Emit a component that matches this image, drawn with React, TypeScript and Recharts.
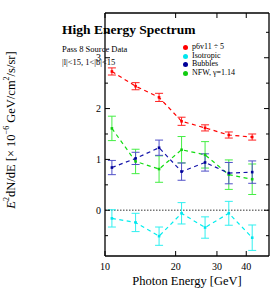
import React from 'react';
import { ComposedChart, Line, XAxis, YAxis, ErrorBar, ReferenceLine, Legend, Label } from 'recharts';

// photon energy bin centres [GeV]
const energies = [10.7, 13.5, 17.0, 21.2, 26.7, 33.7, 42.4];

// E^2 dN/dE [1e-6 GeV/cm2/s/sr]
const p6v11 = [2.73, 2.44, 2.22, 1.75, 1.62, 1.48, 1.44];
const p6v11Err = [0.07, 0.07, 0.08, 0.08, 0.06, 0.06, 0.06];
const isotropic = [-0.16, -0.24, -0.51, -0.06, -0.34, -0.06, -0.54];
const isotropicErr = [0.17, 0.18, 0.18, 0.21, 0.21, 0.235, 0.25];
const bubbles = [0.84, 1.02, 1.23, 0.76, 0.94, 0.73, 0.75];
const bubblesErr = [0.14, 0.12, 0.15, 0.17, 0.17, 0.21, 0.22];
const nfw = [1.61, 0.96, 0.81, 1.19, 1.09, 0.7, 0.61];
const nfwErr = [0.24, 0.24, 0.26, 0.26, 0.26, 0.29, 0.3];

const xTicks = [10, 20, 30, 40];
const yTicks = [-0.5, 0, 0.5, 1, 1.5, 2, 2.5, 3, 3.5];
const yLabelTicks = [0, 1, 2, 3];

const data = energies.map((e, i) => ({
  energy: e,
  p6v11: p6v11[i],
  p6v11Err: p6v11Err[i],
  isotropic: isotropic[i],
  isotropicErr: isotropicErr[i],
  bubbles: bubbles[i],
  bubblesErr: bubblesErr[i],
  nfw: nfw[i],
  nfwErr: nfwErr[i],
}));

const series = [
  { key: 'p6v11', name: 'p6v11 ÷ 5', color: '#ff0000', bar: '#ff2020', dot: '#ff0000' },
  { key: 'isotropic', name: 'Isotropic', color: '#00eeee', bar: '#30f0f0', dot: '#00e5ee' },
  { key: 'nfw', name: 'NFW, γ=1.14', color: '#11dd11', bar: '#44ee44', dot: '#11cc11' },
  { key: 'bubbles', name: 'Bubbles', color: '#1414aa', bar: '#5050c8', dot: '#000099' },
];
const legendOrder = ['p6v11', 'isotropic', 'bubbles', 'nfw'];

const FONT = '"Liberation Serif", "DejaVu Serif", serif';

const isMajor = (v: number) => Math.abs(v - Math.round(v)) < 1e-6;

const BottomTick = ({ x, y, payload }: any) => (
  <g>
    <line x1={x} x2={x} y1={y} y2={y - 5} stroke="#000" strokeWidth={1} />
    <text x={x} y={y + 14} textAnchor="middle" fontSize={10} fontFamily={FONT} fill="#000">
      {payload.value}
    </text>
  </g>
);

const TopTick = ({ x, y }: any) => (
  <line x1={x} x2={x} y1={y} y2={y + 5} stroke="#000" strokeWidth={1} />
);

const LeftTick = ({ x, y, payload }: any) => (
  <line x1={x} x2={x + (isMajor(payload.value) ? 5 : 3)} y1={y} y2={y} stroke="#000" strokeWidth={1} />
);

const RightTick = ({ x, y, payload }: any) => (
  <line x1={x} x2={x - (isMajor(payload.value) ? 5 : 3)} y1={y} y2={y} stroke="#000" strokeWidth={1} />
);

const SquareDot = (color: string) => (props: any) => {
  const { cx, cy, index } = props;
  return <rect key={index} x={cx - 1.3} y={cy - 1.3} width={2.6} height={2.6} fill={color} />;
};

const LegendBox = () => (
  <div style={{ fontFamily: FONT, fontSize: 8, lineHeight: '8.7px', color: '#000' }}>
    {legendOrder.map((k) => {
      const s = series.find((d) => d.key === k)!;
      return (
        <div key={k} style={{ display: 'flex', alignItems: 'center', whiteSpace: 'nowrap' }}>
          <span
            style={{
              display: 'inline-block',
              width: 5,
              height: 5,
              borderRadius: '50%',
              background: s.dot,
              marginRight: 4,
            }}
          />
          {s.name}
        </div>
      );
    })}
  </div>
);

export default function App() {
  return (
    <div style={{ position: 'absolute', left: 0, top: 0, width: 274, height: 289, background: '#fff', fontFamily: FONT }}>
      <ComposedChart
        width={274}
        height={289}
        data={data}
        margin={{ top: 0, right: 0, bottom: 0, left: 0 }}
      >
        <XAxis
          xAxisId="b"
          dataKey="energy"
          type="number"
          scale="log"
          domain={[10, 50]}
          allowDataOverflow
          ticks={xTicks}
          interval={0}
          height={33}
          tickSize={0}
          tickMargin={0}
          tickLine={false}
          tick={<BottomTick />}
          axisLine={{ stroke: '#000', strokeWidth: 1.3 }}
        >
          <Label
            value="Photon Energy [GeV]"
            position="insideBottom"
            offset={4}
            style={{ fontFamily: FONT, fontSize: 12.5, fill: '#000' }}
          />
        </XAxis>
        <XAxis
          xAxisId="t"
          orientation="top"
          dataKey="energy"
          type="number"
          scale="log"
          domain={[10, 50]}
          allowDataOverflow
          ticks={xTicks}
          interval={0}
          height={13}
          tickSize={0}
          tickMargin={0}
          tickLine={false}
          tick={<TopTick />}
          axisLine={{ stroke: '#000', strokeWidth: 1.3 }}
        />
        <YAxis
          yAxisId="l"
          type="number"
          domain={[-0.9, 3.88]}
          allowDataOverflow
          ticks={yTicks}
          interval={0}
          width={1}
          tickSize={0}
          tickMargin={0}
          tickLine={false}
          tick={<LeftTick />}
          axisLine={{ stroke: '#000', strokeWidth: 1.3 }}
        />
        <YAxis
          yAxisId="lab"
          type="number"
          domain={[-0.9, 3.88]}
          allowDataOverflow
          ticks={yLabelTicks}
          interval={0}
          width={24}
          tickSize={0}
          tickMargin={3}
          tickLine={false}
          axisLine={false}
          tick={{ fontSize: 10, fontFamily: FONT, fill: '#000' }}
        />
        <YAxis
          yAxisId="r"
          orientation="right"
          type="number"
          domain={[-0.9, 3.88]}
          allowDataOverflow
          ticks={yTicks}
          interval={0}
          width={5}
          tickSize={0}
          tickMargin={0}
          tickLine={false}
          tick={<RightTick />}
          axisLine={{ stroke: '#000', strokeWidth: 1.3 }}
        />
        <ReferenceLine xAxisId="b" yAxisId="l" y={0} stroke="#777" strokeWidth={1.3} strokeDasharray="1.5 1.5" />
        {series.map((s) => (
          <Line
            key={s.key}
            xAxisId="b"
            yAxisId="l"
            dataKey={s.key}
            name={s.name}
            type="linear"
            stroke={s.color}
            strokeWidth={1.2}
            strokeDasharray="4 3.5"
            dot={SquareDot(s.dot)}
            activeDot={false}
            isAnimationActive={false}
          >
            <ErrorBar
              dataKey={`${s.key}Err`}
              direction="y"
              width={4}
              stroke={s.bar}
              strokeWidth={1}
              isAnimationActive={false}
            />
          </Line>
        ))}
        <Legend
          layout="vertical"
          verticalAlign="top"
          align="left"
          content={<LegendBox />}
          wrapperStyle={{ position: 'absolute', left: 183, top: 43, width: 80 }}
        />
      </ComposedChart>
      <div style={{ position: 'absolute', left: 62, top: 22, fontSize: 13.5, fontWeight: 'bold', whiteSpace: 'nowrap', lineHeight: '16px' }}>
        High Energy Spectrum
      </div>
      <div style={{ position: 'absolute', left: 62, top: 45, fontSize: 8.5, whiteSpace: 'nowrap', lineHeight: '9px' }}>
        Pass 8 Source Data
      </div>
      <div style={{ position: 'absolute', left: 62, top: 58, fontSize: 8.5, whiteSpace: 'nowrap', lineHeight: '9px' }}>
        |l|&lt;15, 1&lt;|b|&lt;15
      </div>
      <div
        style={{
          position: 'absolute',
          left: 9,
          top: 130,
          transform: 'translate(-50%, -50%) rotate(-90deg)',
          fontSize: 12.5,
          whiteSpace: 'nowrap',
          lineHeight: '14px',
        }}
      >
        <i>E</i>
        <sup style={{ fontSize: 8 }}>2</sup>dN/dE [× 10<sup style={{ fontSize: 8 }}>−6</sup> GeV/cm
        <sup style={{ fontSize: 8 }}>2</sup>/s/sr]
      </div>
    </div>
  );
}
